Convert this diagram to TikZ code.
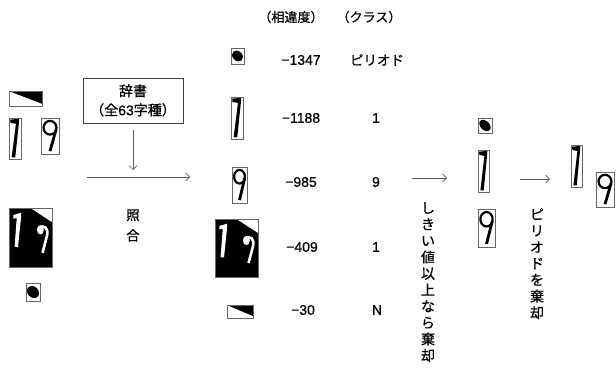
\documentclass[tikz,border=0pt]{standalone}
\usepackage{fontspec}
\setmainfont{Noto Sans CJK JP}[FakeBold=0.7]
\newfontfamily\numfont{Liberation Sans}[FakeBold=0.6]
\usetikzlibrary{arrows.meta}
\tikzset{
  ibox/.style={draw=black!60, line width=0.7pt},
  lbl/.style={font=\fontsize{13}{16}\selectfont, inner sep=0pt},
  nlbl/.style={font=\numfont\fontsize{14}{16}\selectfont, inner sep=0pt},
  vlbl/.style={font=\fontsize{14}{16.4}\selectfont, inner sep=0pt, align=center, anchor=north},
  arr/.style={draw=black!65, line width=0.7pt, -{Straight Barb[length=4pt,width=8pt]}},
}
\newcommand\gWedge[4]{\begin{scope}[shift={(#1,#2)},xscale=#3,yscale=#4]
  \fill[black] (0.05,0.05) -- (1,0) -- (1,0.85) -- cycle;
  \draw[ibox] (0,0) rectangle (1,1);
\end{scope}}
\newcommand\gOne[4]{\begin{scope}[shift={(#1,#2)},xscale=#3,yscale=#4]
  \fill[black] (0.1,0.04) -- (0.85,0.02) -- (0.82,0.14) -- (0.52,0.96) -- (0.22,0.96) -- (0.58,0.14) -- (0.12,0.12) -- cycle;
  \draw[ibox] (0,0) rectangle (1,1);
\end{scope}}
\newcommand\gNine[4]{\begin{scope}[shift={(#1,#2)},xscale=#3,yscale=#4]
  \draw[black, line width=2.2pt] (0.5,0.27) ellipse (0.36 and 0.19);
  \draw[black, line width=2.8pt] (0.84,0.32) -- (0.5,0.92);
  \draw[ibox] (0,0) rectangle (1,1);
\end{scope}}
\newcommand\gBig[4]{\begin{scope}[shift={(#1,#2)},xscale=#3,yscale=#4]
  \fill[black] (0,0) rectangle (1,1);
  \fill[white] (0.5,0) -- (1,0) -- (1,0.24) -- cycle;
  \fill[white] (0.1,0.12) -- (0.28,0.08) -- (0.28,0.16) -- (0.21,0.66) -- (0.13,0.66) -- (0.18,0.17) -- (0.1,0.18) -- cycle;
  \draw[white, line width=2.6pt] (0.7,0.34) .. controls (0.8,0.27) and (0.94,0.34) .. (0.88,0.48) -- (0.78,0.76);
  \fill[white] (0.73,0.37) circle (0.08);
  \draw[ibox] (0,0) rectangle (1,1);
\end{scope}}
\newcommand\gDot[4]{
  \fill[black, rotate around={-45:({#1+#3/2},{#2+#4/2})}] ({#1+#3/2},{#2+#4/2}) ellipse ({0.47*#3} and {0.3*#4});
  \draw[ibox] (#1,#2) rectangle ++(#3,#4);
}
\begin{document}
\begin{tikzpicture}[x=1pt,y=-1pt]
\useasboundingbox[fill=white] (0,0) rectangle (616,369);
% left column
\gWedge{9}{91}{33}{15}
\gOne{9}{118}{12}{41}
\gNine{41}{118}{18}{36}
\gBig{9}{208}{43}{59}
\gDot{26}{283}{14}{18}
% dictionary
\node[draw=black!75, line width=0.8pt, minimum width=100pt, minimum height=45pt, align=center, inner sep=0pt, font=\fontsize{14}{19}\selectfont] (dict) at (133,100.5) {辞書\\（全{\numfont 63}字種）};
\coordinate (h1s) at (87,177);
\coordinate (h1e) at (190,177);
\coordinate (dictend) at (133,170);
\draw[arr, shorten <=7pt] (dict.south) -- (dictend);
\draw[arr] (h1s) -- (h1e);
\node[lbl, align=center, font=\fontsize{13.5}{20.5}\selectfont] (shogo) at (133,225.5) {照\\合};
% headers
\node[lbl] (h1) at (291,17) {（相違度）};
\node[lbl] (h2) at (369,17) {（クラス）};
% table rows
\gDot{231}{48}{13}{16}
\gOne{231}{97}{12}{42}
\gNine{232}{167}{15}{36}
\gBig{215}{219}{43}{58}
\gWedge{227}{305}{26}{13}
\node[nlbl] (v1) at (301,60) {−1347};
\node[nlbl] (v2) at (301,118) {−1188};
\node[nlbl] (v3) at (301,182) {−985};
\node[nlbl] (v4) at (302,247) {−409};
\node[nlbl] (v5) at (303,310) {−30};
\node[lbl, font=\fontsize{13.5}{16}\selectfont] (c1) at (377,60) {ピリオド};
\node[nlbl] (c2) at (376,118) {1};
\node[nlbl] (c3) at (376,182) {9};
\node[nlbl] (c4) at (376,247) {1};
\node[nlbl] (c5) at (377,310) {N};
% threshold step
\coordinate (h2s) at (412,178);
\coordinate (h2e) at (447,178);
\draw[arr] (h2s) -- (h2e);
\node[vlbl] (thr) at (428,202) {し\\き\\い\\値\\以\\上\\な\\ら\\棄\\却};
\gDot{478}{118}{14}{15}
\gOne{478}{150}{11}{42}
\gNine{478}{209}{17}{38}
% period removal
\coordinate (h3s) at (520,179);
\coordinate (h3e) at (550,179);
\draw[arr] (h3s) -- (h3e);
\node[vlbl] (per) at (537,208) {ピ\\リ\\オ\\ド\\を\\棄\\却};
\gOne{571}{145}{11}{42}
\gNine{596}{172}{18}{35}
\end{tikzpicture}
\end{document}
